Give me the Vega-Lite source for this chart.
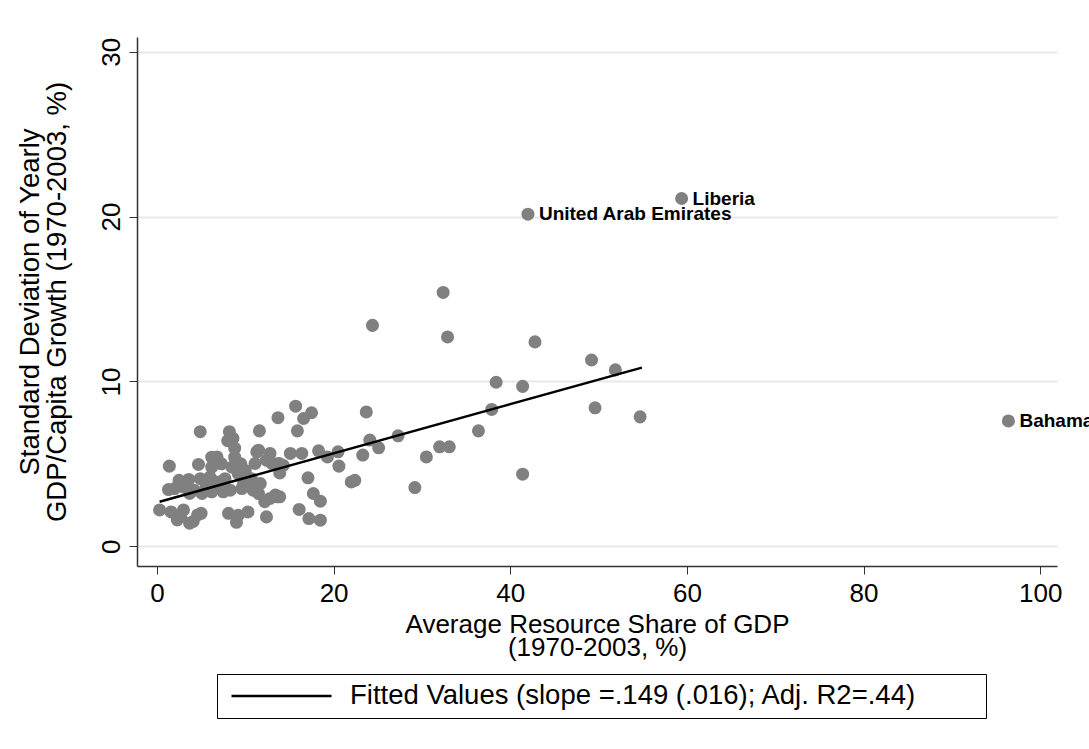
{
  "$schema": "https://vega.github.io/schema/vega-lite/v6.json",
  "width": 920,
  "height": 529,
  "autosize": {"type": "none"},
  "padding": {"left": 137, "top": 37, "right": 32, "bottom": 183},
  "background": "white",
  "config": {
    "font": "Liberation Sans",
    "view": {"stroke": null}
  },
  "datasets": {
    "pts": [
      {"x": 42.0, "y": 20.15, "label": "United Arab Emirates"},
      {"x": 59.4, "y": 21.1, "label": "Liberia"},
      {"x": 96.4, "y": 7.6, "label": "Bahamas"},
      {"x": 32.4, "y": 15.4}, {"x": 24.4, "y": 13.4}, {"x": 32.9, "y": 12.7}, {"x": 42.8, "y": 12.4},
      {"x": 49.2, "y": 11.3}, {"x": 51.9, "y": 10.7}, {"x": 38.4, "y": 9.95}, {"x": 41.4, "y": 9.7},
      {"x": 37.9, "y": 8.3}, {"x": 49.6, "y": 8.4}, {"x": 54.7, "y": 7.85}, {"x": 36.4, "y": 7.0},
      {"x": 27.3, "y": 6.7}, {"x": 24.1, "y": 6.44}, {"x": 25.1, "y": 5.97}, {"x": 32.0, "y": 6.03},
      {"x": 33.1, "y": 6.03}, {"x": 30.5, "y": 5.42}, {"x": 23.3, "y": 5.53}, {"x": 41.4, "y": 4.37},
      {"x": 29.2, "y": 3.56}, {"x": 22.0, "y": 3.9}, {"x": 22.4, "y": 4.0}, {"x": 20.6, "y": 4.86},
      {"x": 20.5, "y": 5.73}, {"x": 19.3, "y": 5.42}, {"x": 18.3, "y": 5.79}, {"x": 15.1, "y": 5.63},
      {"x": 16.4, "y": 5.63}, {"x": 17.1, "y": 4.15}, {"x": 13.9, "y": 5.0}, {"x": 13.9, "y": 4.45},
      {"x": 13.9, "y": 3.0}, {"x": 17.7, "y": 3.2}, {"x": 18.5, "y": 2.73}, {"x": 16.1, "y": 2.23},
      {"x": 17.2, "y": 1.68}, {"x": 18.5, "y": 1.58}, {"x": 23.7, "y": 8.15}, {"x": 15.7, "y": 8.5},
      {"x": 17.5, "y": 8.1}, {"x": 16.6, "y": 7.75}, {"x": 13.7, "y": 7.8}, {"x": 15.9, "y": 7.0},
      {"x": 11.6, "y": 7.0}, {"x": 8.2, "y": 6.95}, {"x": 4.9, "y": 6.95},
      {"x": 8.0, "y": 6.4}, {"x": 8.6, "y": 6.55}, {"x": 8.8, "y": 5.95}, {"x": 8.8, "y": 5.4},
      {"x": 6.8, "y": 5.42}, {"x": 11.3, "y": 5.73}, {"x": 12.8, "y": 5.63}, {"x": 11.1, "y": 5.02},
      {"x": 13.0, "y": 5.02}, {"x": 14.3, "y": 4.9}, {"x": 6.2, "y": 4.8}, {"x": 9.2, "y": 4.4},
      {"x": 7.7, "y": 4.1}, {"x": 6.6, "y": 3.9}, {"x": 10.7, "y": 4.1}, {"x": 11.7, "y": 3.8},
      {"x": 8.3, "y": 3.4}, {"x": 9.6, "y": 3.5}, {"x": 10.9, "y": 3.4}, {"x": 6.2, "y": 3.3},
      {"x": 13.4, "y": 3.1}, {"x": 12.2, "y": 2.7}, {"x": 8.1, "y": 2.0}, {"x": 9.2, "y": 1.88},
      {"x": 10.3, "y": 2.08}, {"x": 9.0, "y": 1.45}, {"x": 12.4, "y": 1.78}, {"x": 1.4, "y": 4.86},
      {"x": 4.7, "y": 4.96}, {"x": 6.2, "y": 5.4}, {"x": 1.3, "y": 3.44}, {"x": 2.5, "y": 4.0},
      {"x": 3.6, "y": 4.05}, {"x": 4.9, "y": 4.1}, {"x": 6.0, "y": 4.2}, {"x": 0.3, "y": 2.2},
      {"x": 1.6, "y": 2.08}, {"x": 2.7, "y": 1.8}, {"x": 4.1, "y": 1.5}, {"x": 4.6, "y": 1.9},
      {"x": 2.3, "y": 1.6}, {"x": 3.7, "y": 1.4}, {"x": 5.1, "y": 3.2}, {"x": 3.7, "y": 3.2},
      {"x": 9.8, "y": 3.8}, {"x": 10.9, "y": 3.6}, {"x": 12.8, "y": 2.9}, {"x": 13.6, "y": 3.0},
      {"x": 11.5, "y": 5.83}, {"x": 12.4, "y": 5.22}, {"x": 13.7, "y": 5.02}, {"x": 2.0, "y": 3.5},
      {"x": 3.0, "y": 3.6}, {"x": 4.2, "y": 3.4}, {"x": 5.5, "y": 3.5}, {"x": 6.5, "y": 3.6},
      {"x": 7.2, "y": 3.5}, {"x": 5.8, "y": 3.8}, {"x": 7.5, "y": 3.3}, {"x": 7.3, "y": 5.0},
      {"x": 9.5, "y": 5.0}, {"x": 10.0, "y": 4.6}, {"x": 8.5, "y": 4.8}, {"x": 5.0, "y": 2.0},
      {"x": 11.5, "y": 3.2}, {"x": 7.0, "y": 3.9}, {"x": 3.0, "y": 2.2}
    ],
    "fit": [
      {"x": 0.3, "y": 2.7, "series": "Fitted Values (slope =.149 (.016); Adj. R2=.44)"},
      {"x": 54.9, "y": 10.84, "series": "Fitted Values (slope =.149 (.016); Adj. R2=.44)"}
    ]
  },
  "layer": [
    {
      "data": {"name": "pts"},
      "mark": {"type": "circle", "size": 170, "color": "#808080", "opacity": 1},
      "encoding": {
        "x": {
          "field": "x", "type": "quantitative",
          "scale": {"domain": [-2.26, 101.9], "nice": false, "zero": false},
          "axis": {
            "values": [0, 20, 40, 60, 80, 100],
            "grid": false,
            "tickSize": 8, "tickWidth": 1, "tickColor": "#333",
            "domainColor": "#333", "domainWidth": 1.5,
            "labelFontSize": 26, "labelColor": "#000", "labelPadding": 6,
            "title": ["Average Resource Share of GDP", "(1970-2003, %)"],
            "titleFontSize": 26, "titleFontWeight": "normal", "titleColor": "#000",
            "titleLineHeight": 23, "titleBaseline": "alphabetic",
            "titleX": 460, "titleY": 66, "titleAlign": "center"
          }
        },
        "y": {
          "field": "y", "type": "quantitative",
          "scale": {"domain": [-1.2, 30.9], "nice": false, "zero": false},
          "axis": {
            "values": [0, 10, 20, 30],
            "grid": true, "gridColor": "#e8e8e8", "gridWidth": 2,
            "tickSize": 8, "tickWidth": 1, "tickColor": "#333",
            "domainColor": "#333", "domainWidth": 1.5,
            "labelAngle": -90, "labelAlign": "center", "labelBaseline": "bottom",
            "labelPadding": 5, "labelFontSize": 26, "labelColor": "#000",
            "title": ["Standard Deviation of Yearly", "GDP/Capita Growth (1970-2003, %)"],
            "titleFontSize": 27.5, "titleFontWeight": "normal", "titleColor": "#000",
            "titleAngle": 270, "titleBaseline": "alphabetic", "titleAlign": "center",
            "titleLineHeight": 27, "titleX": -99, "titleY": 264.5
          }
        }
      }
    },
    {
      "data": {"name": "fit"},
      "mark": {"type": "line", "strokeWidth": 2.5},
      "encoding": {
        "x": {"field": "x", "type": "quantitative"},
        "y": {"field": "y", "type": "quantitative"},
        "stroke": {
          "field": "series", "type": "nominal",
          "scale": {"range": ["#000000"]},
          "legend": {
            "orient": "none", "legendX": 80, "legendY": 637,
            "title": null,
            "symbolType": "M-1,0H7", "symbolSize": 625,
            "symbolStrokeWidth": 2.5, "symbolStrokeColor": "#000", "symbolFillColor": "transparent",
            "symbolOffset": 5, "labelOffset": 92,
            "labelFontSize": 27.5, "labelColor": "#000", "labelLimit": 2000,
            "padding": 8, "strokeColor": "#000", "fillColor": "#fff",
            "labelExpr": "datum.label + '\u00a0\u00a0\u00a0\u00a0\u00a0\u00a0\u00a0\u00a0\u200b'"
          }
        }
      }
    },
    {
      "data": {"name": "pts"},
      "transform": [{"filter": "isValid(datum.label)"}],
      "mark": {"type": "text", "align": "left", "baseline": "middle", "dx": 11, "fontSize": 19, "fontWeight": "bold", "color": "#000"},
      "encoding": {
        "x": {"field": "x", "type": "quantitative"},
        "y": {"field": "y", "type": "quantitative"},
        "text": {"field": "label"}
      }
    }
  ]
}
